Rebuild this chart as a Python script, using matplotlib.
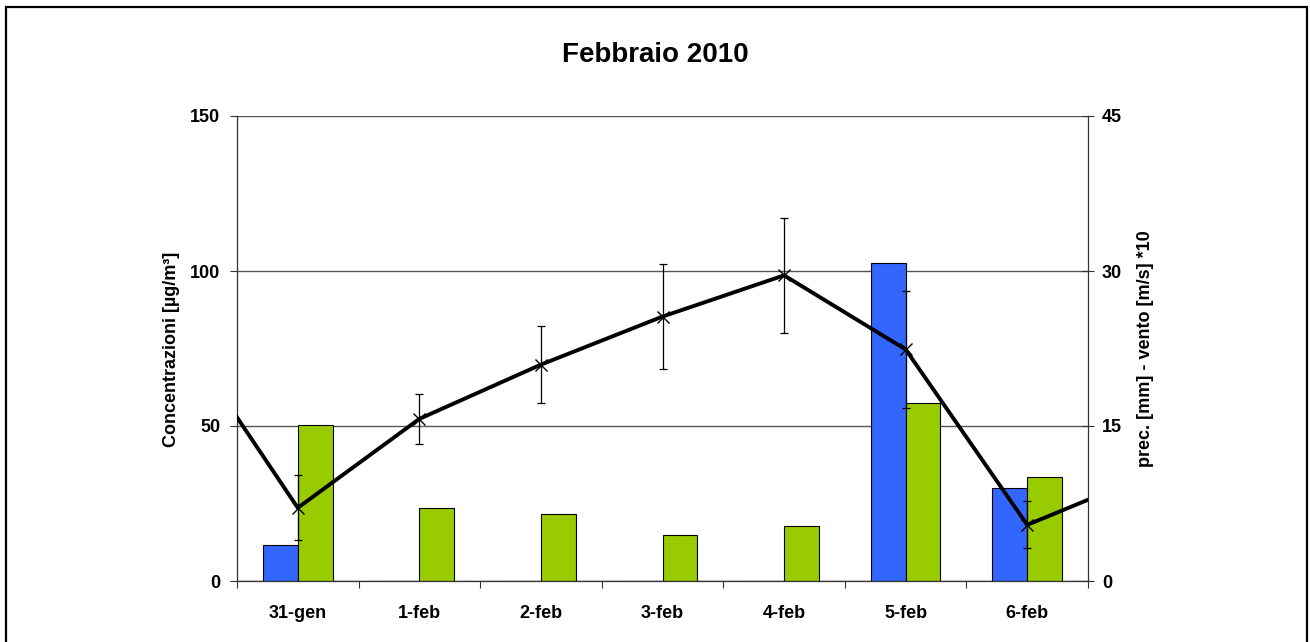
import numpy as np
import matplotlib
matplotlib.use("Agg")
import matplotlib.pyplot as plt
from matplotlib.patches import Rectangle

plt.rcParams['font.family'] = ['Liberation Sans', 'DejaVu Sans']
plt.rcParams['font.weight'] = 'bold'

# Days shown on the category axis
days = ["31-gen", "1-feb", "2-feb", "3-feb", "4-feb", "5-feb", "6-feb"]

# Mean concentration [µg/m3] incl. the day before and after the shown week
conc_days = ["30-gen"] + days + ["7-feb"]
conc = [82.0, 23.6, 52.3, 69.8, 85.3, 98.6, 74.7, 18.1, 34.3]
conc_err = [0.0, 10.5, 8.0, 12.3, 16.8, 18.6, 19.0, 7.6, 0.0]

# Precipitation [mm] and wind speed [m/s]*10 (right axis)
prec = [3.5, 0.0, 0.0, 0.0, 0.0, 30.75, 8.97]
vento = [15.1, 7.04, 6.46, 4.45, 5.33, 17.25, 10.1]

left_ticks = [0, 50, 100, 150]
right_ticks = [0, 15, 30, 45]

BLUE = "#3366FF"
GREEN = "#99CC00"
GRID = "#555555"

fig = plt.figure(figsize=(13.10, 6.42), dpi=100)
fig.patches.append(Rectangle((5.5 / 1310, -0.05), 1301.5 / 1310, 1 - 6.5 / 642 + 0.05,
                             transform=fig.transFigure, fill=False,
                             edgecolor="black", linewidth=1.6))

pos = [237 / 1310, 1 - 581 / 642, (1088 - 237) / 1310, (581 - 116) / 642]
ax = fig.add_axes(pos)          # concentrations (line)
ax2 = ax.twinx()                # precipitation / wind (bars)
ax.set_zorder(ax2.get_zorder() + 1)
ax.patch.set_visible(False)

x = np.arange(len(days))
w = 1 / 3.5

# Bars on the right axis
ax2.set_axisbelow(True)
ax2.yaxis.grid(True, color=GRID, linewidth=1.0)
ax2.bar(x - w / 2, prec, width=w, color=BLUE, edgecolor="black", linewidth=0.8, zorder=2)
ax2.bar(x + w / 2, vento, width=w, color=GREEN, edgecolor="black", linewidth=0.8, zorder=2)
ax2.set_ylim(0, 45)
ax2.set_yticks(right_ticks)
ax2.tick_params(axis='y', direction='inout', length=8, width=0.8, color="#333333",
                labelsize=13, pad=6)

# Concentration line with error bars
xc = np.arange(-1, len(days) + 1)
ax.plot(xc, conc, color="black", linewidth=2.8, marker="x", markersize=8,
        markeredgewidth=1.0, zorder=3, clip_on=True)
ax.errorbar(xc[1:-1], conc[1:-1], yerr=conc_err[1:-1], fmt="none", ecolor="black",
            elinewidth=0.9, capsize=3, capthick=0.9, zorder=3)

ax.set_xlim(-0.5, len(days) - 0.5)
ax.set_ylim(0, 150)
ax.set_yticks(left_ticks)
ax.tick_params(axis='y', direction='out', length=5, width=0.8, color="#333333",
               labelsize=13, pad=7)
ax.set_xticks(x)
ax.set_xticklabels(days, fontsize=13, fontweight='bold')
ax.tick_params(axis='x', which='major', length=0, pad=17)
ax.set_xticks(np.arange(-0.5, len(days)), minor=True)
ax.tick_params(axis='x', which='minor', direction='out', length=5, width=0.8, color="#333333")

for a in (ax, ax2):
    a.spines['top'].set_visible(False)
    for s in ('left', 'right', 'bottom'):
        a.spines[s].set_color("#333333")
        a.spines[s].set_linewidth(0.9)
ax2.spines['bottom'].set_visible(False)
ax.spines['right'].set_visible(False)
ax2.spines['left'].set_visible(False)

for lab in ax.get_yticklabels() + ax2.get_yticklabels():
    lab.set_fontweight('bold')

fig.text(0.5, 1 - 55 / 642, "Febbraio 2010", ha='center', va='center',
         fontsize=20, fontweight='bold')
fig.text(172 / 1310, 1 - 349 / 642, "Concentrazioni [µg/m³]", rotation=90,
         ha='center', va='center', fontsize=13, fontweight='bold')
fig.text(1146 / 1310, 1 - 349 / 642, "prec. [mm] - vento [m/s] *10", rotation=90,
         ha='center', va='center', fontsize=13, fontweight='bold')

fig.savefig("out.png", dpi=100)
